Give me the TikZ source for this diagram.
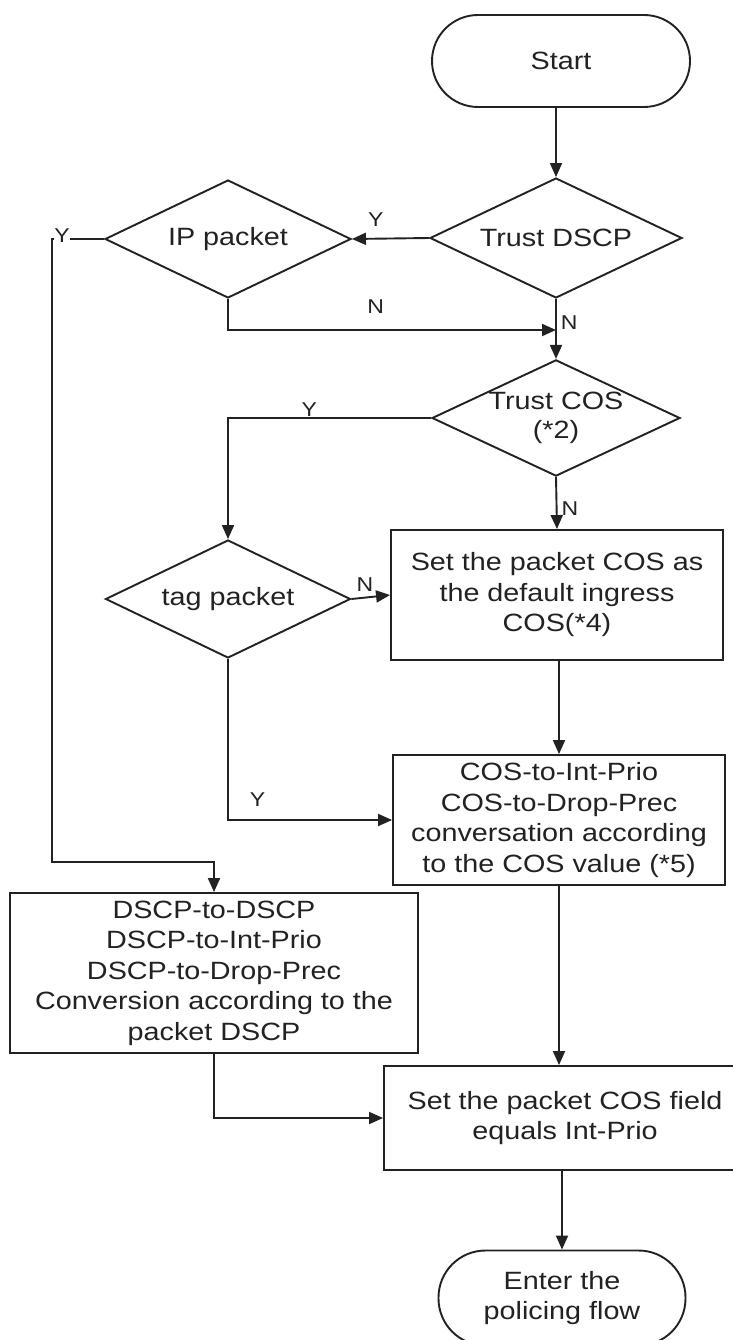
\documentclass[tikz,border=0pt]{standalone}
\usepackage{fontspec}
\setmainfont{Liberation Sans}[FakeStretch=1.15]
\usetikzlibrary{shapes.geometric,arrows.meta}
\definecolor{ink}{HTML}{222222}
\begin{document}
\begin{tikzpicture}[x=1pt,y=-1pt,
  base/.style={draw=ink, text=ink, line width=1.9pt, font=\fontsize{25}{30.5}\selectfont, align=center, inner sep=0pt},
  decision/.style={base, diamond, aspect=2.1},
  proc/.style={base, rectangle},
  term/.style={base, rectangle},
  conn/.style={draw=ink, line width=1.9pt, -{Triangle[length=14pt,width=12pt]}},
  lbl/.style={text=ink, font=\fontsize{20}{22}\selectfont, inner sep=1pt}]
\useasboundingbox (0,0) rectangle (732,1340);
\fill[white] (0,0) rectangle (732,1340);

\node[term, rounded corners=46pt, minimum width=258pt, minimum height=92pt] (start) at (561,61) {Start};
\node[decision, minimum width=252pt, minimum height=120pt] (tdscp) at (556,238) {Trust DSCP};
\node[decision, minimum width=246pt, minimum height=118pt] (ip) at (228,239) {IP packet};
\node[decision, minimum width=248pt, minimum height=116pt, font=\fontsize{25}{29.5}\selectfont] (tcos) at (556,418) {Trust COS\\(*2)};
\node[decision, minimum width=245pt, minimum height=118pt] (tag) at (228,599) {tag packet};
\node[proc, minimum width=332pt, minimum height=130pt] (setdef) at (557,595) {Set the packet COS as\\the default ingress\\COS(*4)};
\node[proc, minimum width=332pt, minimum height=130pt] (cosmap) at (559,820) {COS-to-Int-Prio\\COS-to-Drop-Prec\\conversation according\\to the COS value (*5)};
\node[proc, minimum width=408pt, minimum height=160pt] (dscpmap) at (214,973) {DSCP-to-DSCP\\DSCP-to-Int-Prio\\DSCP-to-Drop-Prec\\Conversion according to the\\packet DSCP};
\node[proc, minimum width=362pt, minimum height=104pt] (field) at (565,1118) {Set the packet COS field\\equals Int-Prio};
\node[term, rounded corners=47pt, minimum width=247pt, minimum height=95pt] (enter) at (562,1298) {Enter the\\policing flow};

\coordinate (j1) at (556,330);
\coordinate (ytop) at (52,239);
\coordinate (ybot) at (52,862);

\draw[conn] (tdscp.north |- start.south) -- (tdscp.north);
\draw[conn] (tdscp.west) -- node[lbl, above, pos=0.69, yshift=10pt]{Y} (ip.east);
\draw[conn] (ip.west) -- (ytop) -- (ybot) -| (dscpmap.north);
\node[lbl, fill=white, inner sep=0.5pt] at (62,236) {Y};
\draw[conn] (ip.south) |- node[lbl, above, pos=0.725, yshift=15pt]{N} (j1);
\draw[conn] (tdscp.south) -- node[lbl, right, pos=0.4, xshift=3pt]{N} (tcos.north);
\draw[conn] (tcos.west) -| node[lbl, above, pos=0.3]{Y} (tag.north);
\draw[conn] (tcos.south) -- node[lbl, right, pos=0.6, xshift=3pt]{N} (setdef.north);
\draw[conn] (tag.east) -- node[lbl, above, pos=0.35, yshift=4pt]{N} (setdef.west);
\draw[conn] (cosmap.north |- setdef.south) -- (cosmap.north);
\draw[conn] (tag.south) |- node[lbl, above, pos=0.59, yshift=12pt]{Y} (cosmap.west);
\draw[conn] (cosmap.south) -- (cosmap.south |- field.north);
\draw[conn] (dscpmap.south) |- (field.west);
\draw[conn] (enter.north |- field.south) -- (enter.north);
\end{tikzpicture}
\end{document}
